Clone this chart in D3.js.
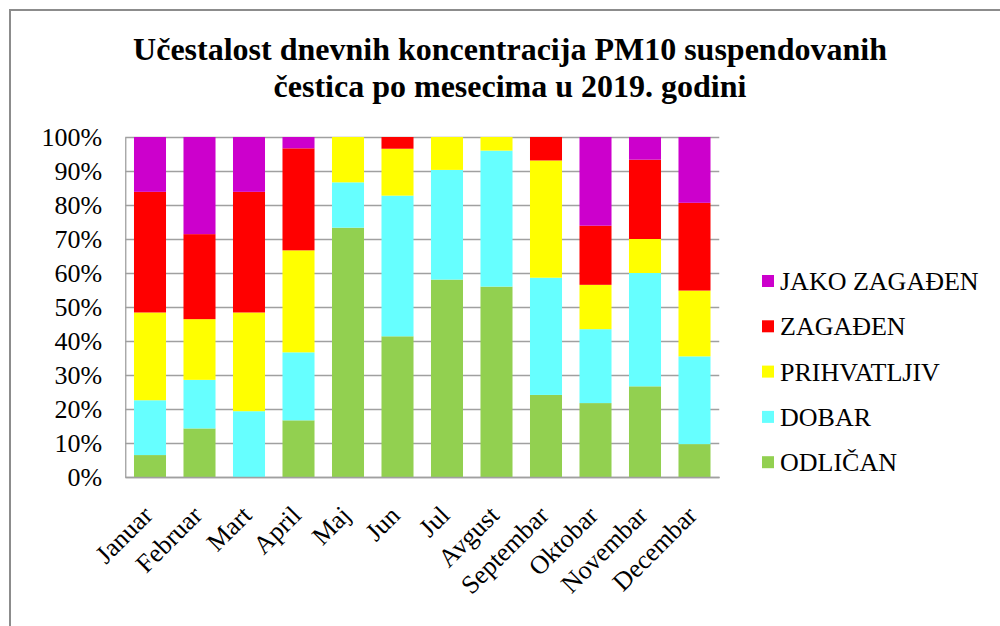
<!DOCTYPE html>
<html>
<head>
<meta charset="utf-8">
<script src="https://cdn.jsdelivr.net/npm/d3@7"></script>
<style>
  html, body { margin: 0; padding: 0; background: #fff; }
  svg { display: block; }
  svg text { font-family: "Times New Roman", "Liberation Serif", Tinos, "DejaVu Serif", serif !important; fill: #000; }
</style>
</head>
<body>
<svg id="chart" width="1000" height="626"></svg>
<script>
// ---- Data (days per category, month by month) ----
const months = ["Januar","Februar","Mart","April","Maj","Jun","Jul","Avgust","Septembar","Oktobar","Novembar","Decembar"];
const categories = ["ODLIČAN","DOBAR","PRIHVATLJIV","ZAGAĐEN","JAKO ZAGAĐEN"];
const odlican     = [2, 4, 0, 5, 22, 12, 18, 14, 7, 5, 8, 3];
const dobar       = [5, 4, 6, 6, 4, 12, 10, 10, 10, 5, 10, 8];
const prihvatljiv = [8, 5, 9, 9, 4, 4, 3, 1, 10, 3, 3, 6];
const zagadjen    = [11, 7, 11, 9, 0, 1, 0, 0, 2, 4, 7, 8];
const jakoZagadjen= [5, 8, 5, 1, 0, 0, 0, 0, 0, 6, 2, 6];
const yTicks = [0, 0.1, 0.2, 0.3, 0.4, 0.5, 0.6, 0.7, 0.8, 0.9, 1.0];
const titleLines = ["Učestalost dnevnih koncentracija PM10 suspendovanih", "čestica po mesecima u 2019. godini"];
const colors = ["#92D050", "#66FFFF", "#FFFF00", "#FF0000", "#CC00CC"];

const seriesValues = [odlican, dobar, prihvatljiv, zagadjen, jakoZagadjen];
const table = months.map((m, i) => {
  const row = { month: m };
  const total = d3.sum(seriesValues, s => s[i]);
  categories.forEach((c, k) => row[c] = seriesValues[k][i] / total);
  return row;
});

const svg = d3.select("#chart");

// outer border (cut off at right/bottom like the reference)
svg.append("rect").attr("x", 10).attr("y", 10).attr("width", 1200).attr("height", 800)
  .attr("fill", "none").attr("stroke", "#8c8c8c").attr("stroke-width", 2);

// title
svg.append("g").selectAll("text").data(titleLines).join("text")
  .attr("x", 510).attr("y", (d, i) => 60 + i * 37)
  .attr("text-anchor", "middle")
  .style("font-size", "32px").style("font-weight", "bold")
  .text(d => d);

const x = d3.scaleBand().domain(months).range([125.25, 719.25]).paddingInner(0.353).paddingOuter(0.1765);
const y = d3.scaleLinear().domain([0, 1]).range([477, 137]);

// gridlines
svg.append("g").selectAll("line").data(yTicks).join("line")
  .attr("x1", 125.25).attr("x2", 719.25)
  .attr("y1", d => Math.round(y(d)) + 0.5).attr("y2", d => Math.round(y(d)) + 0.5)
  .attr("stroke", "#a0a0a0").attr("stroke-width", 1.3);

// y axis labels
const yAxis = d3.axisLeft(y).tickValues(yTicks).tickFormat(d3.format(".0%")).tickSize(0).tickPadding(23);
const yg = svg.append("g").attr("transform", "translate(125.25,0)").call(yAxis)
  .attr("font-family", null).attr("font-size", null);
yg.select(".domain").attr("stroke", "#a0a0a0").attr("stroke-width", 1.3);
yg.selectAll("text").style("font-size", "26px").attr("dy", "0.34em").attr("fill", "#000");

// stacked bars
const stack = d3.stack().keys(categories);
const layers = stack(table);
svg.append("g").selectAll("g").data(layers).join("g")
  .attr("fill", (d, i) => colors[i])
  .selectAll("rect").data(d => d).join("rect")
  .attr("x", d => x(d.data.month))
  .attr("width", x.bandwidth())
  .attr("y", d => y(d[1]))
  .attr("height", d => Math.max(0, y(d[0]) - y(d[1])));

// x axis
const xAxis = d3.axisBottom(x).tickSize(0).tickPadding(0);
const xg = svg.append("g").attr("transform", "translate(0,477)").call(xAxis)
  .attr("font-family", null).attr("font-size", null);
xg.select(".domain").attr("stroke", "#a0a0a0").attr("stroke-width", 1.3);
xg.selectAll(".tick text")
  .style("font-size", "26px").attr("fill", "#000")
  .attr("text-anchor", "end").attr("dy", null).attr("y", null)
  .attr("transform", "translate(4,40) rotate(-45)");

// legend
const legendItems = categories.map((c, i) => ({ name: c, color: colors[i] })).reverse();
const lg = svg.append("g").selectAll("g").data(legendItems).join("g")
  .attr("transform", (d, i) => `translate(762,${281 + i * 45.3})`);
lg.append("rect").attr("x", 0).attr("y", -6).attr("width", 12).attr("height", 12).attr("fill", d => d.color);
lg.append("text").attr("x", 18).attr("y", 9).style("font-size", "26px").text(d => d.name);
</script>
</body>
</html>
